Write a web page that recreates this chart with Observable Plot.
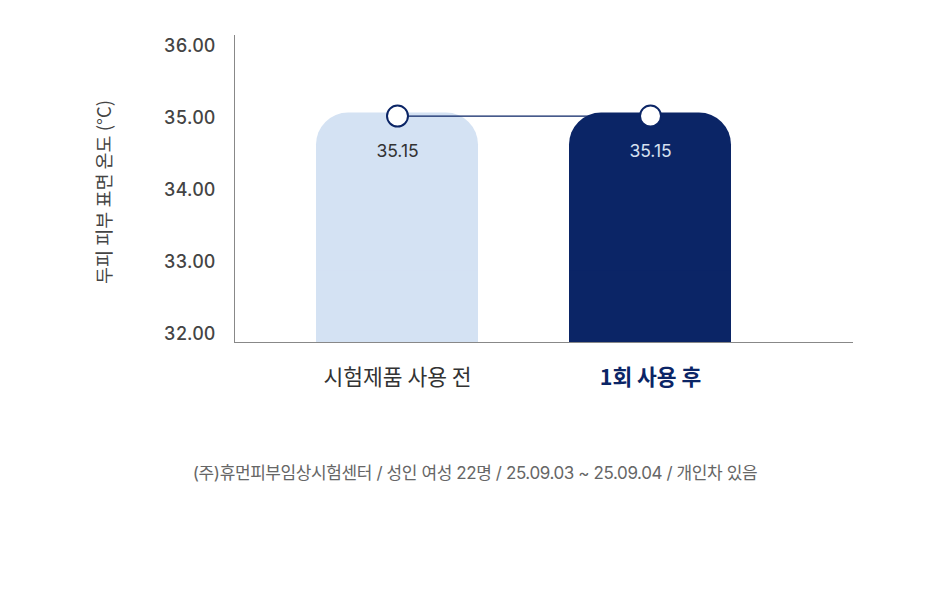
<!DOCTYPE html>
<html>
<head>
<meta charset="utf-8">
<script src="https://cdn.jsdelivr.net/npm/d3@7"></script>
<script src="https://cdn.jsdelivr.net/npm/@observablehq/plot@0.6"></script>
<style>
  body { margin: 0; background: #fff; font-family: Inter, "Noto Sans CJK KR", sans-serif; }
  #chart { width: 950px; }
  .caption { text-align: center; font-size: 17px; color: #666; margin-top: 39px; letter-spacing: -0.4px; }
</style>
</head>
<body>
<div id="chart"></div>
<div class="caption">(주)휴먼피부임상시험센터 / 성인 여성 22명 / 25.09.03 ~ 25.09.04 / 개인차 있음</div>
<script>
const categories = ["시험제품 사용 전", "1회 사용 후"];
const values = [35.15, 35.15];
const labels = ["35.15", "35.15"];
const yTicks = [32, 33, 34, 35, 36];
const yLabel = "두피 피부 표면 온도 (°C)";
const barColors = ["#d4e2f3", "#0b2566"];
const labelColors = ["#333333", "#d6e0f0"];

const data = categories.map((c, i) => ({cat: c, value: values[i], label: labels[i], color: barColors[i], lc: labelColors[i]}));

const FONT = "Inter, 'Noto Sans CJK KR', sans-serif";

const chart = Plot.plot({
  width: 950,
  height: 420,
  marginLeft: 234,
  marginRight: 97,
  marginTop: 35,
  marginBottom: 78,
  style: {fontFamily: FONT, background: "#fff"},
  x: {domain: categories, padding: 0.36, paddingOuter: 0.401, align: 0.404, label: null},
  y: {domain: [32, 36.27], label: null},
  marks: [
    Plot.barY(data, {x: "cat", y1: 32, y2: "value", fill: "color", rx: 32, insetTop: -3}),
    Plot.barY(data, {x: "cat", y1: 32, y2: 33, fill: "color"}),
    Plot.ruleY([32], {stroke: "#888", strokeWidth: 1}),
    Plot.frame({anchor: "left", stroke: "#888", strokeWidth: 1}),
    Plot.axisY({ticks: yTicks, tickSize: 0, tickPadding: 19, dy: -8.5, tickFormat: d => d.toFixed(2), fontSize: 18, fontWeight: 500, fill: "#444", label: null}),
    Plot.text([yLabel], {frameAnchor: "left", dx: -129, dy: 3, rotate: -90, textAnchor: "middle", fontSize: 18.5, fill: "#444", fontFamily: "'Noto Sans CJK KR', sans-serif"}),
    Plot.line(data, {x: "cat", y: "value", stroke: "#0b2566", strokeWidth: 1.2}),
    Plot.dot(data, {x: "cat", y: "value", r: 10.5, fill: "#fff", stroke: "#0b2566", strokeWidth: 2}),
    Plot.text(data, {x: "cat", y: "value", text: "label", dy: 35, fontSize: 17.5, fill: "lc"}),
    Plot.axisX({tickSize: 0, tickPadding: 27, fontSize: 21.5, fill: "#333", label: null,
      fontFamily: "'Noto Sans CJK KR', sans-serif", tickFormat: d => d}),
  ]
});

d3.select(chart).selectAll('[aria-label="x-axis tick label"] text').each(function(d, i) {
  if (i === 1) { d3.select(this).attr("font-weight", "bold").attr("fill", "#0b2566"); }
});
document.getElementById("chart").appendChild(chart);
</script>
</body>
</html>
